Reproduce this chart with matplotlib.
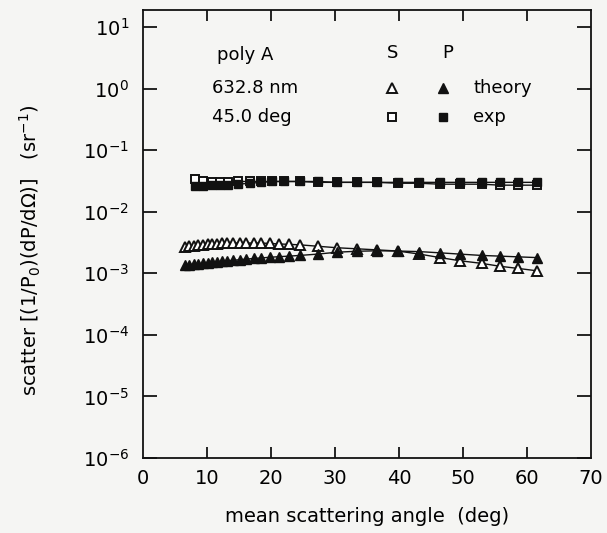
import numpy as np
import matplotlib
matplotlib.use("Agg")
import matplotlib.pyplot as plt
from matplotlib.ticker import FixedLocator, NullLocator

# Angulos de los puntos teoricos (triangulos) y experimentales (cuadrados)
angulo_teoria = [6.5, 7.2, 7.9, 8.6, 9.4, 10.1, 10.8, 11.5, 12.3, 13.2, 14.1, 15.1,
                 16.1, 17.3, 18.5, 19.8, 21.2, 22.8, 24.5, 27.3, 30.3, 33.4, 36.6,
                 39.8, 43.2, 46.4, 49.5, 52.9, 55.8, 58.6, 61.5]
angulo_exp = [8.1, 9.4, 10.8, 12.0, 13.3, 14.8, 16.7, 18.5, 20.2, 22.0, 24.5, 27.3,
              30.3, 33.4, 36.6, 39.8, 43.2, 46.4, 49.5, 52.9, 55.8, 58.6, 61.5]

# Teoria S (triangulos abiertos) y P (triangulos llenos)
s_teoria = [2.7e-3, 2.75e-3, 2.8e-3, 2.85e-3, 2.9e-3, 2.95e-3, 3.0e-3, 3.0e-3, 3.05e-3,
            3.05e-3, 3.1e-3, 3.1e-3, 3.1e-3, 3.1e-3, 3.1e-3, 3.05e-3, 3.0e-3, 2.95e-3,
            2.9e-3, 2.75e-3, 2.6e-3, 2.5e-3, 2.4e-3, 2.3e-3, 2.05e-3, 1.8e-3, 1.6e-3,
            1.45e-3, 1.3e-3, 1.2e-3, 1.1e-3]
p_teoria = [1.35e-3, 1.38e-3, 1.4e-3, 1.42e-3, 1.45e-3, 1.48e-3, 1.5e-3, 1.53e-3, 1.56e-3,
            1.6e-3, 1.63e-3, 1.66e-3, 1.7e-3, 1.74e-3, 1.78e-3, 1.82e-3, 1.86e-3, 1.9e-3,
            1.95e-3, 2.05e-3, 2.2e-3, 2.28e-3, 2.32e-3, 2.3e-3, 2.25e-3, 2.15e-3, 2.05e-3,
            1.95e-3, 1.9e-3, 1.85e-3, 1.8e-3]

# Experimento S (cuadrados abiertos) y P (cuadrados llenos)
s_exp = [0.034, 0.031, 0.030, 0.030, 0.030, 0.031, 0.031, 0.031, 0.031, 0.031, 0.031,
         0.030, 0.030, 0.030, 0.030, 0.029, 0.029, 0.028, 0.028, 0.028, 0.027, 0.027, 0.027]
p_exp = [0.026, 0.026, 0.027, 0.027, 0.027, 0.028, 0.029, 0.030, 0.031, 0.031, 0.031,
         0.031, 0.030, 0.030, 0.030, 0.030, 0.030, 0.030, 0.030, 0.030, 0.030, 0.030, 0.030]

x_ticks = [0, 10, 20, 30, 40, 50, 60, 70]
y_ticks = [1e-6, 1e-5, 1e-4, 1e-3, 1e-2, 1e-1, 1e0, 1e1]
y_ticklabels = ["$10^{-6}$", "$10^{-5}$", "$10^{-4}$", "$10^{-3}$",
                "$10^{-2}$", "$10^{-1}$", "$10^{0}$", "$10^{1}$"]

plt.rcParams["font.family"] = ["DejaVu Sans"]
plt.rcParams["mathtext.default"] = "regular"

fig = plt.figure(figsize=(6.07, 5.33), dpi=100, facecolor="#f5f5f3")
ax = fig.add_axes([0.2356, 0.1407, 0.738, 0.8405])
ax.set_facecolor("#f5f5f3")

negro = "#111111"
ax.plot(angulo_teoria, s_teoria, "-", color=negro, lw=1.0, marker="^", ms=7,
        mfc="white", mec=negro, mew=1.4)
ax.plot(angulo_teoria, p_teoria, "-", color=negro, lw=1.0, marker="^", ms=7,
        mfc=negro, mec=negro)
ax.plot(angulo_exp, s_exp, "-", color=negro, lw=1.0, marker="s", ms=5.5,
        mfc="white", mec=negro, mew=1.4)
ax.plot(angulo_exp, p_exp, "-", color=negro, lw=1.0, marker="s", ms=5.5,
        mfc=negro, mec=negro)

ax.set_yscale("log")
ax.set_xlim(0, 70)
ax.set_ylim(1e-6, 10 ** 1.276)
ax.xaxis.set_major_locator(FixedLocator(x_ticks[1:-1]))
ax.set_xticklabels([])
ax.yaxis.set_major_locator(FixedLocator(y_ticks))
ax.yaxis.set_minor_locator(NullLocator())
ax.set_yticklabels(y_ticklabels, fontsize=14)
ax.tick_params(axis="y", direction="in", length=10, width=1.2, right=True, pad=10)
ax.tick_params(axis="x", direction="in", length=8, width=1.2, top=True)
for s in ax.spines.values():
    s.set_linewidth(1.3)
    s.set_color(negro)

# Etiquetas del eje x (incluye 0 y 70 en los bordes)
for v in x_ticks:
    ax.text(v, -0.025, str(v), transform=ax.get_xaxis_transform(), ha="center",
            va="top", fontsize=14)

ax.text(0.5, -0.11, "mean scattering angle  (deg)", transform=ax.transAxes,
        ha="center", va="top", fontsize=14)
fig.text(0.05, 0.53, "scatter [(1/P$_0$)(dP/d\u03a9)]   (sr$^{-1}$)", rotation=90,
         ha="center", va="center", fontsize=14)

# Leyenda dibujada a mano
ax.text(0.165, 0.90, "poly A", transform=ax.transAxes, ha="left", va="center", fontsize=13)
ax.text(0.154, 0.826, "632.8 nm", transform=ax.transAxes, ha="left", va="center", fontsize=13)
ax.text(0.154, 0.761, "45.0 deg", transform=ax.transAxes, ha="left", va="center", fontsize=13)
ax.text(0.558, 0.905, "S", transform=ax.transAxes, ha="center", va="center", fontsize=13)
ax.text(0.681, 0.905, "P", transform=ax.transAxes, ha="center", va="center", fontsize=13)
ax.plot([0.556], [0.826], transform=ax.transAxes, marker="^", ms=6.5, mfc="white",
        mec=negro, mew=1.4, ls="none")
ax.plot([0.67], [0.826], transform=ax.transAxes, marker="^", ms=6.5, mfc=negro,
        mec=negro, ls="none")
ax.plot([0.556], [0.761], transform=ax.transAxes, marker="s", ms=5.5, mfc="white",
        mec=negro, mew=1.4, ls="none")
ax.plot([0.67], [0.761], transform=ax.transAxes, marker="s", ms=5.5, mfc=negro,
        mec=negro, ls="none")
ax.text(0.737, 0.826, "theory", transform=ax.transAxes, ha="left", va="center", fontsize=13)
ax.text(0.737, 0.761, "exp", transform=ax.transAxes, ha="left", va="center", fontsize=13)

fig.savefig("out.png", dpi=100, facecolor=fig.get_facecolor())
